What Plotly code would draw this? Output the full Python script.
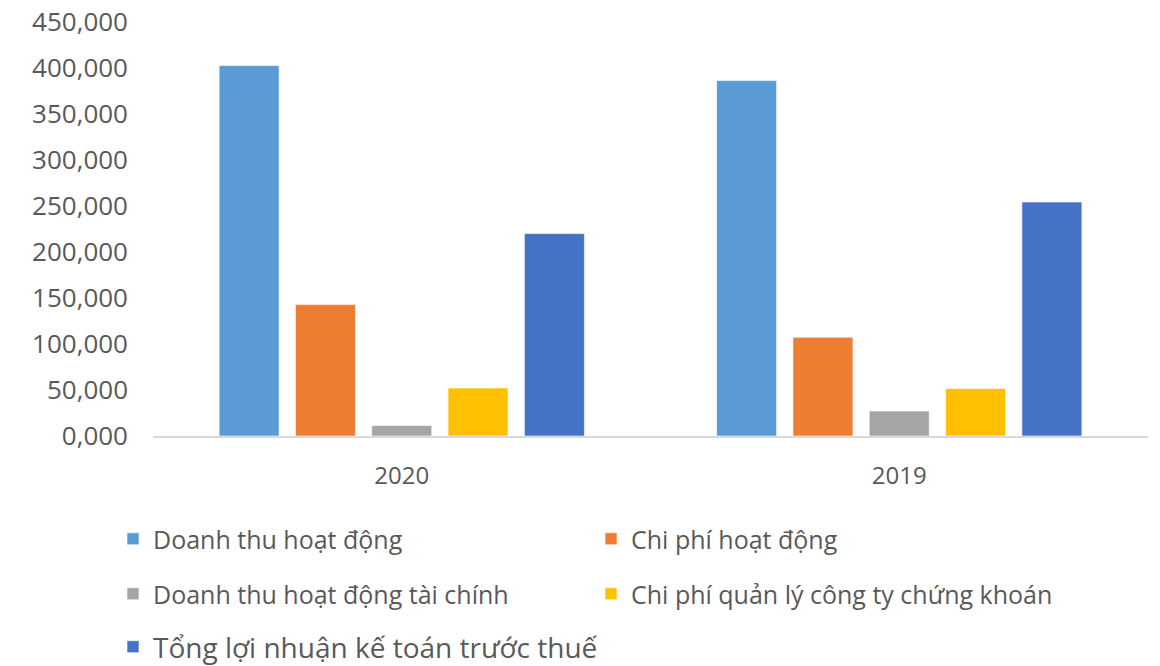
import plotly.graph_objects as go

years = ["2020", "2019"]
series_names = [
    "Doanh thu hoạt động",
    "Chi phí hoạt động",
    "Doanh thu hoạt động tài chính",
    "Chi phí quản lý công ty chứng khoán",
    "Tổng lợi nhuận kế toán trước thuế",
]
doanh_thu_hd = [402600, 386300]
chi_phi_hd = [142800, 107300]
doanh_thu_tc = [11300, 27200]
chi_phi_ql = [52200, 51500]
tong_loi_nhuan = [220000, 254300]
series_values = [doanh_thu_hd, chi_phi_hd, doanh_thu_tc, chi_phi_ql, tong_loi_nhuan]
colors = ["#5B9BD5", "#ED7D31", "#A5A5A5", "#FFC000", "#4472C4"]
legend_ids = ["legend", "legend", "legend2", "legend2", "legend3"]

y_tick_vals = [0, 50000, 100000, 150000, 200000, 250000, 300000, 350000, 400000, 450000]
y_tick_text = ["0,000", "50,000", "100,000", "150,000", "200,000",
               "250,000", "300,000", "350,000", "400,000", "450,000"]

FONT = "Open Sans, Arial, sans-serif"
GREY = "#595959"

fig = go.Figure()
for name, vals, col, lg in zip(series_names, series_values, colors, legend_ids):
    fig.add_trace(go.Bar(
        x=years, y=vals, name=name, legend=lg,
        marker=dict(color=col, line=dict(color="rgba(255,255,255,0.6)", width=1)),
    ))

W, H = 1160, 666
legend_base = dict(
    orientation="h", xref="container", yref="container",
    xanchor="left", yanchor="middle",
    font=dict(family=FONT, size=25, color=GREY),
    bgcolor="rgba(0,0,0,0)",
    itemclick=False, itemdoubleclick=False,
)
legend_two_col = dict(legend_base, entrywidth=433, entrywidthmode="pixels")

fig.update_layout(
    width=W, height=H,
    margin=dict(l=153, r=12, t=22, b=230, autoexpand=False),
    paper_bgcolor="white", plot_bgcolor="white",
    barmode="group", bargap=0.233, bargroupgap=0.214,
    font=dict(family=FONT, color=GREY),
    xaxis=dict(
        showline=True, linecolor="#D9D9D9", linewidth=2,
        showgrid=False, ticks="", ticklabelstandoff=17,
        tickfont=dict(family=FONT, size=24, color=GREY),
    ),
    yaxis=dict(
        range=[0, 450000], tickvals=y_tick_vals, ticktext=y_tick_text,
        showgrid=False, zeroline=False, showline=False, ticks="",
        ticklabelstandoff=24,
        tickfont=dict(family=FONT, size=26, color=GREY),
    ),
    legend=dict(legend_two_col, x=113 / W, y=1 - 539 / H),
    legend2=dict(legend_two_col, x=113 / W, y=1 - 594 / H),
    legend3=dict(legend_base, x=113 / W, y=1 - 647 / H,
                 font=dict(family=FONT, size=28, color=GREY)),
    showlegend=True,
)

fig.write_html("out.html")
